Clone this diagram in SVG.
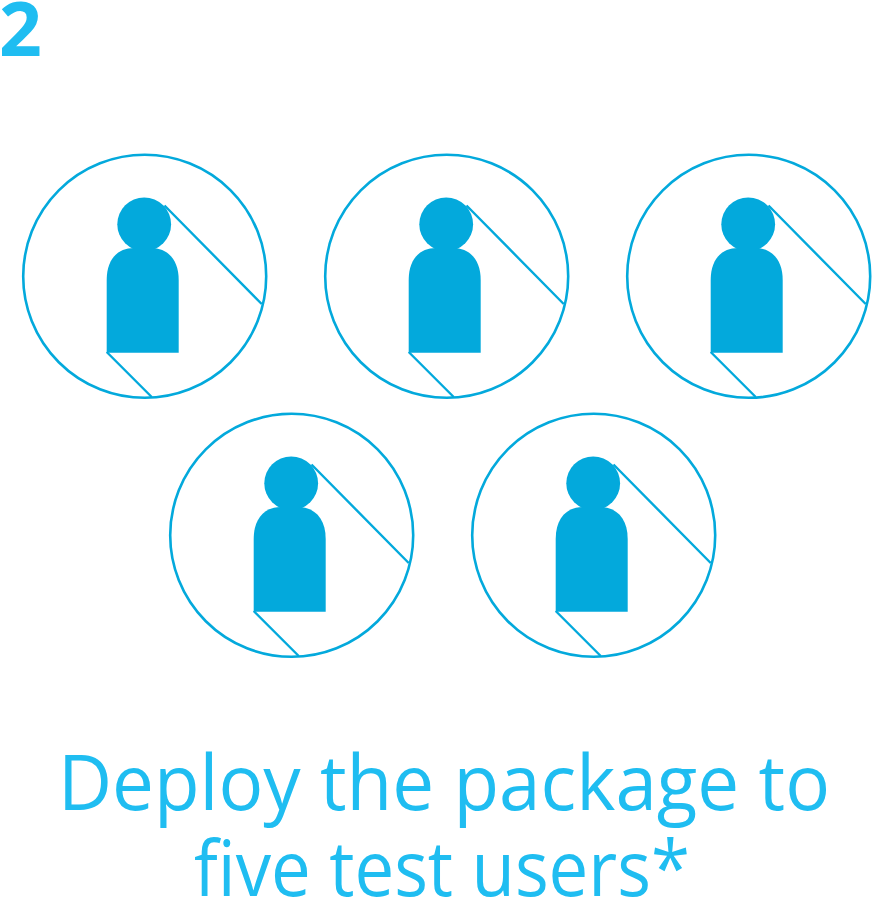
<svg xmlns="http://www.w3.org/2000/svg" width="872" height="898" viewBox="0 0 872 898">
<style>
.ring{fill:#fff;stroke:#03a9dc;stroke-width:2.6}
.shadow{fill:none;stroke:#03a9dc;stroke-width:2.4}
.body{fill:#03a9dc}
text{fill:#1fbdf1;font-family:"Open Sans","Noto Sans",sans-serif}
.cap{font-size:77px}
</style>
<defs>
<g id="user">
<circle class="ring" cx="144.700" cy="276.300" r="121.500"/>
<path class="shadow" d="M164.500 205.500L261.700 304M106.700 352L151.700 397"/>
<circle class="body" cx="144.200" cy="224.300" r="26.900"/>
<path class="body" d="M106.700 352.700V280C106.700 260 117 248 134 248H151C168 248 178.700 260 178.700 280V352.700Z"/>
</g>
</defs>
<text x="-1" y="56" style="font-size:75px;font-weight:700">2</text>
<g id="user1"><use href="#user"/></g>
<g id="user2"><use href="#user" x="302"/></g>
<g id="user3"><use href="#user" x="604"/></g>
<g id="user4"><use href="#user" x="147" y="259"/></g>
<g id="user5"><use href="#user" x="449" y="259"/></g>
<g id="connectors"/>
<text class="cap" x="58" y="810" textLength="772" lengthAdjust="spacingAndGlyphs">Deploy the package to</text>
<text class="cap" x="194" y="896" textLength="496" lengthAdjust="spacingAndGlyphs">five test users*</text>
</svg>
